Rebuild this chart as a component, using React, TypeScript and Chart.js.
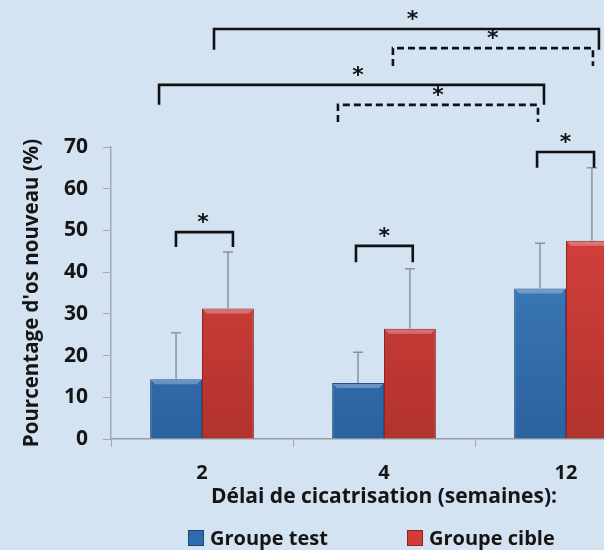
import React, { useEffect, useRef } from "react";
import { Chart, registerables } from "chart.js";

Chart.register(...registerables);

const categories = ["2", "4", "12"];
const seriesNames = ["Groupe test", "Groupe cible"];
const testValues = [14.3, 13.4, 36.1];
const cibleValues = [31.3, 26.4, 47.5];
const testErrors = [11.2, 7.4, 10.8];
const cibleErrors = [13.5, 14.4, 17.5];
const yTicks = [0, 10, 20, 30, 40, 50, 60, 70];
const yTitle = "Pourcentage d'os nouveau (%)";
const xTitle = "Délai de cicatrisation (semaines):";

// brackets in data units: category index (fractional) and percentage
const bracketFrom = [-0.143, 0.846, 1.841, -0.236, 0.747, 0.066, 1.049];
const bracketTo = [0.17, 1.158, 2.154, 1.879, 1.846, 2.181, 2.148];
const bracketTop = [49.6, 46.3, 68.8, 84.9, 80.1, 98.3, 93.7];
const bracketLeg = [46.0, 42.4, 65.0, 80.1, 76.0, 93.3, 89.4];
const bracketDashed = [false, false, false, false, true, false, true];
const bracketStarAt = [0.005, 1.002, 1.997, 0.857, 1.297, 1.157, 1.598];

const BG = "rgb(211,227,242)";
const FONT = "'Open Sans', 'Noto Sans', sans-serif";
const blueSwatch = "#2f6cae";
const redSwatch = "#d13d36";

const errorBarPlugin = {
  id: "errorBars",
  afterDatasetsDraw(chart: any) {
    const ctx = chart.ctx;
    const errs = [testErrors, cibleErrors];
    const y = chart.scales.y;
    ctx.save();
    ctx.strokeStyle = "#8c939b";
    ctx.lineWidth = 1.5;
    chart.data.datasets.forEach((ds: any, di: number) => {
      const meta = chart.getDatasetMeta(di);
      meta.data.forEach((bar: any, i: number) => {
        const v = ds.data[i];
        const top = y.getPixelForValue(v + errs[di][i]);
        const base = y.getPixelForValue(v);
        ctx.beginPath();
        ctx.moveTo(bar.x, base);
        ctx.lineTo(bar.x, top);
        ctx.moveTo(bar.x - 5, top);
        ctx.lineTo(bar.x + 5, top);
        ctx.stroke();
      });
    });
    ctx.restore();
  },
};

const bevelPlugin = {
  id: "bevel",
  afterDatasetsDraw(chart: any) {
    const ctx = chart.ctx;
    ctx.save();
    chart.data.datasets.forEach((_ds: any, di: number) => {
      const meta = chart.getDatasetMeta(di);
      meta.data.forEach((bar: any) => {
        const l = bar.x - bar.width / 2;
        const r = bar.x + bar.width / 2;
        const t = bar.y;
        ctx.fillStyle = "rgba(255,255,255,0.28)";
        ctx.beginPath();
        ctx.moveTo(l + 1, t + 1);
        ctx.lineTo(r - 1, t + 1);
        ctx.lineTo(r - 5, t + 5);
        ctx.lineTo(l + 5, t + 5);
        ctx.closePath();
        ctx.fill();
      });
    });
    ctx.restore();
  },
};

const bracketPlugin = {
  id: "brackets",
  afterDraw(chart: any) {
    const ctx = chart.ctx;
    const xs = chart.scales.x;
    const ys = chart.scales.y;
    ctx.save();
    ctx.strokeStyle = "#111";
    ctx.fillStyle = "#111";
    ctx.lineWidth = 2.6;
    ctx.lineCap = "butt";
    for (let i = 0; i < bracketFrom.length; i++) {
      const x1 = xs.getPixelForValue(bracketFrom[i]);
      const x2 = xs.getPixelForValue(bracketTo[i]);
      const yt = ys.getPixelForValue(bracketTop[i]);
      const yl = ys.getPixelForValue(bracketLeg[i]);
      ctx.setLineDash(bracketDashed[i] ? [7, 4] : []);
      ctx.beginPath();
      ctx.moveTo(x1, yl);
      ctx.lineTo(x1, yt);
      ctx.lineTo(x2, yt);
      ctx.lineTo(x2, yl);
      ctx.stroke();
      ctx.setLineDash([]);
      const sx = xs.getPixelForValue(bracketStarAt[i]);
      ctx.font = "bold 22px 'DejaVu Sans', sans-serif";
      ctx.textAlign = "center";
      ctx.textBaseline = "middle";
      ctx.fillText("*", sx, yt - 9);
    }
    ctx.restore();
  },
};

function gradient(chart: any, top: string, bottom: string) {
  const area = chart.chartArea;
  if (!area) return top;
  const g = chart.ctx.createLinearGradient(0, area.top, 0, area.bottom);
  g.addColorStop(0, top);
  g.addColorStop(1, bottom);
  return g;
}

export default function App() {
  const ref = useRef<HTMLCanvasElement>(null);
  useEffect(() => {
    if (!ref.current) return;
    const chart = new Chart(ref.current, {
      type: "bar",
      data: {
        labels: categories,
        datasets: [
          {
            label: seriesNames[0],
            data: testValues,
            backgroundColor: (c: any) => gradient(c.chart, "#4786c6", "#2b62a0"),
            borderColor: "#21508a",
            borderWidth: 1,
          },
          {
            label: seriesNames[1],
            data: cibleValues,
            backgroundColor: (c: any) => gradient(c.chart, "#de4640", "#b2322e"),
            borderColor: "#8f2522",
            borderWidth: 1,
          },
        ],
      },
      options: {
        animation: false,
        responsive: false,
        maintainAspectRatio: false,
        layout: { padding: { top: 147, right: 23, left: 0, bottom: 0 } },
        datasets: { bar: { categoryPercentage: 0.57, barPercentage: 1 } },
        plugins: { legend: { display: false }, tooltip: { enabled: false } },
        scales: {
          x: {
            afterFit: (s: any) => { s.height = 111; },
            grid: { drawOnChartArea: false, tickLength: 8, color: "#a6a9ad", offset: true },
            border: { color: "#9a9ea3", width: 1.5 },
            ticks: { color: "#151515", font: { family: FONT, size: 20, weight: "bold" }, padding: 14 },
            title: {
              display: true,
              text: xTitle,
              color: "#151515",
              font: { family: FONT, size: 21, weight: "bold" },
              padding: { top: 0, bottom: 40 },
            },
          },
          y: {
            min: 0,
            max: 70,
            afterFit: (s: any) => { s.width = 111; },
            afterBuildTicks: (s: any) => { s.ticks = yTicks.map((v) => ({ value: v })); },
            grid: { drawOnChartArea: false, tickLength: 8, color: "#a6a9ad" },
            border: { color: "#a6a9ad", width: 1.5 },
            ticks: { color: "#151515", font: { family: FONT, size: 21, weight: "bold" }, padding: 15 },
            title: {
              display: true,
              text: yTitle,
              color: "#151515",
              font: { family: FONT, size: 20.5, weight: "bold" },
              padding: { top: 20, bottom: 0 },
            },
          },
        },
      },
      plugins: [errorBarPlugin, bevelPlugin, bracketPlugin],
    } as any);
    return () => chart.destroy();
  }, []);

  const legendItems = [
    { label: seriesNames[0], color: blueSwatch, left: 188 },
    { label: seriesNames[1], color: redSwatch, left: 407 },
  ];

  return (
    <div style={{ position: "fixed", inset: 0, overflow: "hidden", background: BG }}>
      <canvas ref={ref} width={680} height={550} style={{ position: "absolute", left: 0, top: 0 }} />
      {legendItems.map((it) => (
        <div
          key={it.label}
          style={{
            position: "absolute",
            left: it.left,
            top: 526,
            display: "flex",
            alignItems: "center",
            fontFamily: FONT,
            fontWeight: "bold",
            fontSize: 20,
            color: "#151515",
            lineHeight: "24px",
            whiteSpace: "nowrap",
          }}
        >
          <span
            style={{
              display: "inline-block",
              width: 14,
              height: 14,
              background: it.color,
              border: "1px solid rgba(0,0,0,0.35)",
              marginRight: 6,
            }}
          />
          {it.label}
        </div>
      ))}
    </div>
  );
}
